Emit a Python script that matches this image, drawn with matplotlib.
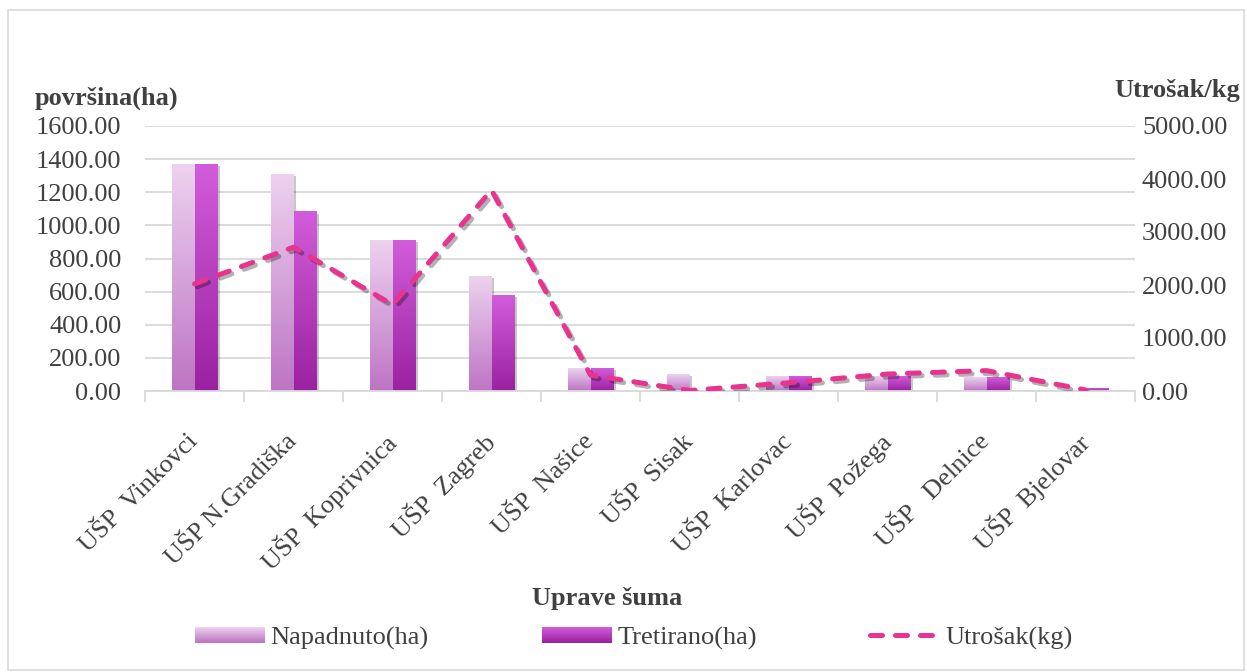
import numpy as np
import matplotlib
matplotlib.use("Agg")
import matplotlib.pyplot as plt
from matplotlib.patches import Rectangle
from matplotlib.colors import LinearSegmentedColormap, to_rgb
from matplotlib.legend_handler import HandlerBase
from matplotlib.lines import Line2D
import matplotlib.patheffects as pe

categories = ["UŠP  Vinkovci", "UŠP N.Gradiška", "UŠP  Koprivnica", "UŠP  Zagreb",
              "UŠP  Našice", "UŠP  Sisak", "UŠP  Karlovac", "UŠP  Požega",
              "UŠP   Delnice", "UŠP  Bjelovar"]
napadnuto = [1370, 1310, 910, 692, 138, 102, 90, 85, 80, 5]
tretirano = [1370, 1083, 910, 578, 138, 0, 90, 85, 80, 15]
utrosak = [2020, 2714, 1630, 3790, 300, 10, 155, 320, 385, 20]
left_ticks = [0, 200, 400, 600, 800, 1000, 1200, 1400, 1600]
right_ticks = [0, 1000, 2000, 3000, 4000, 5000]

plt.rcParams['font.family'] = ['Liberation Serif', 'DejaVu Serif']
TXT = '#404040'
FS = 19
FSB = 19

NAP_TOP, NAP_BOT = '#edd2ef', '#bd74c4'
TRE_TOP, TRE_BOT = '#d25cda', '#9a22a2'
LINE_C = '#e8348f'

W, H = 1247, 672
fig = plt.figure(figsize=(W/100, H/100), dpi=100)
fig.patches.append(Rectangle((8/W, 2/H), (1244-8)/W, (662-2)/H, transform=fig.transFigure,
                             facecolor='none', edgecolor='#d9d9d9', lw=1.2))

ax = fig.add_axes([145/W, 1-391/H, (1135-145)/W, (391-126)/H])
ax2 = ax.twinx()

bw = 0.225
x = np.arange(len(categories))

def grad_bar(axis, x0, w, h, ctop, cbot, z=2):
    if h <= 0:
        return
    rect = Rectangle((x0, 0), w, h, facecolor=cbot, edgecolor='none', zorder=z,
                     path_effects=[pe.SimplePatchShadow(offset=(2, -1.5), shadow_rgbFace='k', alpha=0.22),
                                   pe.Normal()])
    axis.add_patch(rect)
    grad = np.linspace(0, 1, 256).reshape(-1, 1)
    cmap = LinearSegmentedColormap.from_list('g', [cbot, ctop])
    axis.imshow(grad, extent=[x0, x0 + w, 0, h], origin='lower', aspect='auto',
                cmap=cmap, zorder=z + 0.1, interpolation='bilinear')

for i in range(len(categories)):
    grad_bar(ax, x[i] - bw, bw, napadnuto[i], NAP_TOP, NAP_BOT)
    grad_bar(ax, x[i], bw, tretirano[i], TRE_TOP, TRE_BOT)

ax.set_xlim(-0.5, len(categories) - 0.5)
ax.set_ylim(0, 1600)
ax.set_yticks(left_ticks)
ax.set_yticklabels([f"{v:.2f}" for v in left_ticks])
ax.grid(axis='y', color='#d9d9d9', lw=1.3, zorder=0)
ax.set_axisbelow(True)
for s in ['top', 'left', 'right']:
    ax.spines[s].set_visible(False)
    ax2.spines[s].set_visible(False)
ax.spines['bottom'].set_color('#d9d9d9')
ax.spines['bottom'].set_linewidth(1.3)
ax2.spines['bottom'].set_visible(False)

ax.set_xticks(x)
ax.set_xticklabels(categories, rotation=45, ha='right', va='center', rotation_mode='anchor')
ax.set_xticks(np.arange(-0.5, len(categories)), minor=True)
ax.tick_params(axis='x', which='major', length=0, pad=34, labelsize=FS, labelcolor=TXT)
ax.tick_params(axis='x', which='minor', length=8, color='#d9d9d9', width=1.3)
ax.tick_params(axis='y', length=0, pad=17, labelsize=FS, labelcolor=TXT)

ax2.plot(x, utrosak, color=LINE_C, lw=3.6, linestyle=(0, (2.4, 2.6)),
         dash_capstyle='round', zorder=5,
         path_effects=[pe.SimpleLineShadow(offset=(2, -2), shadow_color='k', alpha=0.3),
                       pe.Normal()])
ax2.set_ylim(0, 5000)
ax2.set_yticks(right_ticks)
ax2.set_yticklabels([f"{v:.2f}" for v in right_ticks])
ax2.tick_params(axis='y', length=0, pad=5, labelsize=FS, labelcolor=TXT)
ax.set_zorder(1)
ax2.set_zorder(2)
ax2.patch.set_visible(False)

fig.text(35/W, 1-98/H, "površina(ha)", fontsize=FSB, fontweight='bold', color=TXT,
         ha='left', va='center')
fig.text(1240/W, 1-90/H, "Utrošak/kg", fontsize=FSB, fontweight='bold', color=TXT,
         ha='right', va='center')
fig.text(607/W, 1-598/H, "Uprave šuma", fontsize=FSB, fontweight='bold', color=TXT,
         ha='center', va='center')

class GradHandler(HandlerBase):
    def __init__(self, ctop, cbot):
        super().__init__()
        self.ctop = np.array(to_rgb(ctop))
        self.cbot = np.array(to_rgb(cbot))
    def create_artists(self, legend, orig_handle, xdescent, ydescent, width, height, fontsize, trans):
        n = 24
        arts = []
        for k in range(n):
            t = k / (n - 1)
            c = self.cbot * (1 - t) + self.ctop * t
            arts.append(Rectangle((-xdescent, -ydescent + k * height / n), width, height / n * 1.05,
                                  facecolor=c, edgecolor='none', transform=trans))
        return arts

h_nap = Rectangle((0, 0), 1, 1)
h_tre = Rectangle((0, 0), 1, 1)
h_line = Line2D([0], [0], color=LINE_C, lw=3.6, linestyle=(0, (2.4, 2.6)), dash_capstyle='round')
leg = fig.legend([h_nap, h_tre, h_line], ["Napadnuto(ha)", "Tretirano(ha)", "Utrošak(kg)"],
                 loc='center', bbox_to_anchor=(634/W, 1-638/H), ncol=3, frameon=False,
                 fontsize=FS, handlelength=2.65, handleheight=0.55, handletextpad=0.2,
                 columnspacing=4.3,
                 handler_map={h_nap: GradHandler(NAP_TOP, NAP_BOT), h_tre: GradHandler(TRE_TOP, TRE_BOT)})
for t in leg.get_texts():
    t.set_color(TXT)

fig.savefig("out.png", dpi=100)
